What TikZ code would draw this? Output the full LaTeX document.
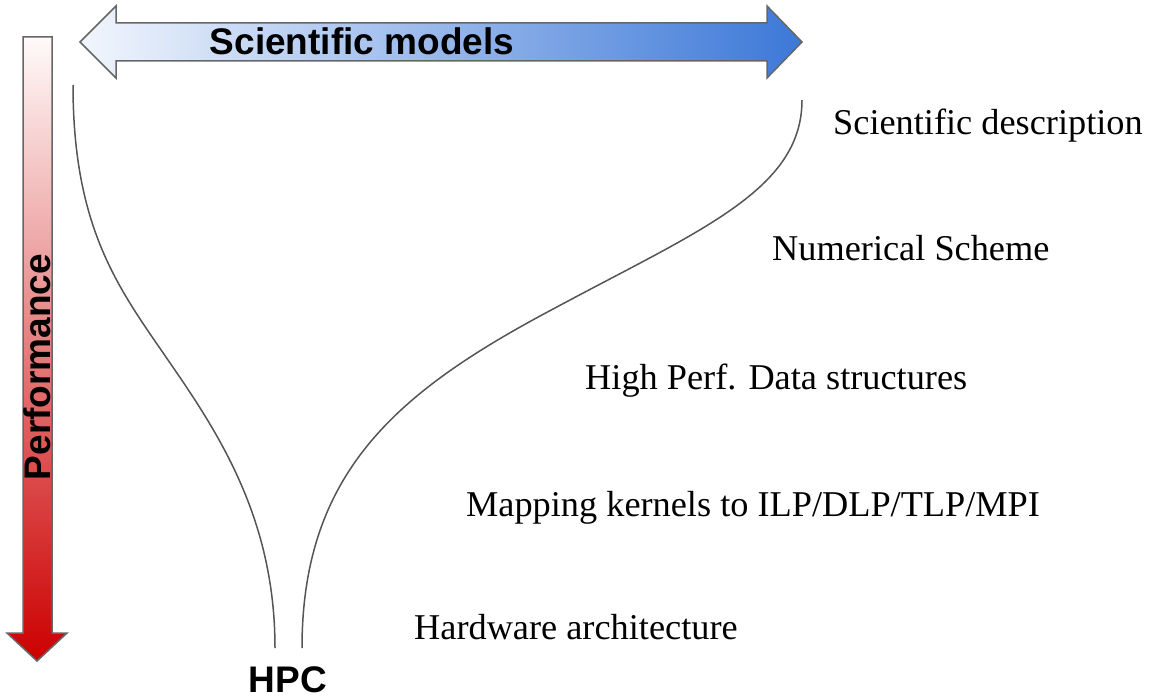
\documentclass[tikz,border=0pt]{standalone}
\usepackage{fontspec}
\setmainfont{Liberation Serif}
\setsansfont{Liberation Sans}
\definecolor{blueL}{HTML}{F2F6FD}
\definecolor{blueR}{HTML}{3C78D8}
\definecolor{redT}{HTML}{FFFAFA}
\definecolor{redB}{HTML}{CC0000}
\definecolor{edge}{HTML}{666666}
\definecolor{curvec}{HTML}{555555}
\begin{document}
\begin{tikzpicture}[x=1pt,y=-1pt,
  lbl/.style={anchor=base west, inner sep=0pt, font=\fontsize{36.3}{40}\selectfont},
  bigsans/.style={inner sep=0pt, font=\sffamily\bfseries\fontsize{37}{40}\selectfont},
  curve/.style={draw=curvec, line width=1.5pt},
  arrowbox/.style={draw=edge, line width=1.5pt, line join=miter}]
\useasboundingbox (0,0) rectangle (1153,698);
% horizontal double arrow
\path[arrowbox, left color=blueL, right color=blueR]
  (80,42) -- (116,6) -- (116,23) -- (767,23) -- (767,6) -- (802,42)
  -- (767,78) -- (767,61) -- (116,61) -- (116,78) -- cycle;
% vertical arrow
\path[arrowbox, top color=redT, bottom color=redB]
  (23,37) -- (52,37) -- (52,633) -- (67,633) -- (37,661) -- (7,633) -- (23,633) -- cycle;
% texts
\node[bigsans, anchor=base] (sm) at (362,55) {Scientific models};
\node[bigsans, rotate=90, anchor=base] (perf) at (50,367) {Performance};
\node[bigsans, anchor=base] (hpc) at (288,692) {HPC};
\node[lbl] (sd) at (833,135) {Scientific description};
\node[lbl] (ns) at (772,260) {Numerical Scheme};
\node[lbl] (hp) at (585,389) {High Perf. Data structures};
\node[lbl] (mk) at (466,516) {Mapping kernels to ILP/DLP/TLP/MPI};
\node[lbl] (hw) at (414,639) {Hardware architecture};
% curves
\coordinate (l0) at (73,85);
\coordinate (l1) at (168,360);
\coordinate (l2) at (275,648);
\coordinate (r0) at (802,100);
\coordinate (r1) at (555,308);
\coordinate (r2) at (302,648);
\draw[curve] (l0) .. controls (73,230) and (120,290) .. (l1)
  .. controls (220,435) and (275,520) .. (l2);
\draw[curve] (r0) .. controls (802,190) and (700,230) .. (r1)
  .. controls (400,390) and (302,470) .. (r2);
\end{tikzpicture}
\end{document}
